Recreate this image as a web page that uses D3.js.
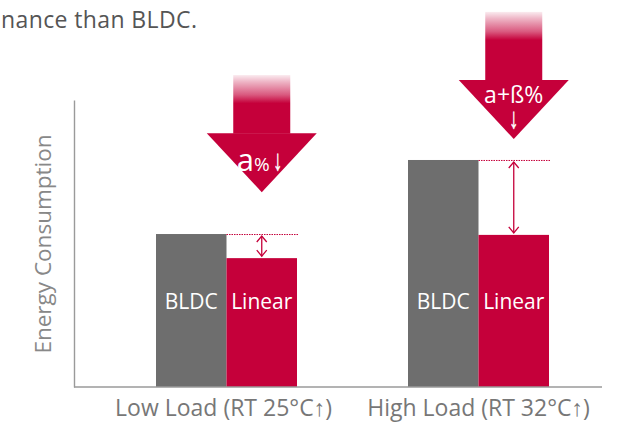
<!DOCTYPE html>
<html><head><meta charset="utf-8">
<script src="https://cdn.jsdelivr.net/npm/d3@7"></script>
<style>html,body{margin:0;padding:0;background:#fff;}svg{display:block;font-family:"Open Sans",sans-serif;}</style>
</head><body>
<script>
// ---- data ----
const categories = ["Low Load (RT 25°C↑)", "High Load (RT 32°C↑)"];
const seriesNames = ["BLDC", "Linear"];
const bldcValues = [53.3, 79.1];
const linearValues = [44.9, 53.0];
const arrowLabels = [["a", "%", "↓"], ["a+ß%", "↓"]];
const arrowTop = [108.7, 130.7];   // shaft top (value units)
const arrowTip = [67.9, 86.4];     // arrow tip (value units)
const yAxisTitle = "Energy Consumption";
const headline = "nance than BLDC.";

const W = 630, H = 426;
const red = "#c5003a", gray = "#6e6e6e";
const svg = d3.select("body").append("svg").attr("width", W).attr("height", H);

const y = d3.scaleLinear().domain([0, 100]).range([387, 100]);
const x = d3.scaleBand().domain(categories).range([100.5, 604.5]).padding(0);
const xs = d3.scaleBand().domain(seriesNames).range([55.5, 196.5]).padding(0);

// headline
svg.append("text").attr("x", 1).attr("y", 28)
  .attr("font-size", 23).attr("fill", "#555")
  .attr("textLength", 196).attr("lengthAdjust", "spacing").text(headline);

// bars
const rows = categories.map((c, i) => ({cat: c, vals: [bldcValues[i], linearValues[i]], i}));
const g = svg.selectAll("g.cat").data(rows).join("g").attr("class", "cat")
  .attr("transform", d => `translate(${x(d.cat)},0)`);
g.selectAll("rect").data(d => d.vals.map((v, k) => ({s: seriesNames[k], v})))
  .join("rect")
  .attr("x", d => xs(d.s)).attr("width", xs.bandwidth())
  .attr("y", d => y(d.v)).attr("height", d => y(0) - y(d.v))
  .attr("fill", d => d.s === "BLDC" ? gray : red);
g.selectAll("text.bl").data(seriesNames).join("text").attr("class", "bl")
  .attr("x", s => xs(s) + xs.bandwidth() / 2).attr("y", 309)
  .attr("text-anchor", "middle").attr("fill", "#fff").attr("font-size", 21)
  .attr("font-weight", 500).text(s => s);

// dotted reference lines + double arrows
g.append("line")
  .attr("x1", xs("Linear")).attr("x2", xs("Linear") + xs.bandwidth() + 1)
  .attr("y1", d => y(d.vals[0]) + 0.5).attr("y2", d => y(d.vals[0]) + 0.5)
  .attr("stroke", red).attr("stroke-width", 1).attr("stroke-dasharray", "1.5,1");
const cx = xs("Linear") + xs.bandwidth() / 2;
g.append("line").attr("x1", cx).attr("x2", cx)
  .attr("y1", d => y(d.vals[0]) + 2).attr("y2", d => y(d.vals[1]) - 2)
  .attr("stroke", red).attr("stroke-width", 1.3);
g.append("path").attr("fill", "none").attr("stroke", red).attr("stroke-width", 1.3)
  .attr("d", d => {
    const t = y(d.vals[0]) + 2, b = y(d.vals[1]) - 2;
    return `M${cx - 5},${t + 6}L${cx},${t}L${cx + 5},${t + 6}M${cx - 5},${b - 6}L${cx},${b}L${cx + 5},${b - 6}`;
  });

// big arrows
const defs = svg.append("defs");
function downGlyph(px, py, txt) {
  svg.append("text").attr("transform", `translate(${px},${py}) scale(1.05,1.7)`)
    .attr("text-anchor", "middle").attr("fill", "#fff").attr("stroke", "#fff").attr("stroke-width", 0.35)
    .attr("font-size", 17).attr("font-family", "Liberation Sans").text(txt);
}
rows.forEach((d, i) => {
  const ax = x(d.cat) + cx;
  const top = y(arrowTop[i]), tip = y(arrowTip[i]);
  const headH = 59, headW = 110, shaftW = 57;
  const headTop = tip - headH;
  const shaftLen = headTop - top;
  const gid = "grad" + i;
  const gr = defs.append("linearGradient").attr("id", gid).attr("x1", 0).attr("y1", 0).attr("x2", 0).attr("y2", 1);
  gr.append("stop").attr("offset", 0).attr("stop-color", red).attr("stop-opacity", 0.08);
  gr.append("stop").attr("offset", 0.25 * 28 / shaftLen).attr("stop-color", red).attr("stop-opacity", 0.3);
  gr.append("stop").attr("offset", 0.7 * 28 / shaftLen).attr("stop-color", red).attr("stop-opacity", 0.65);
  gr.append("stop").attr("offset", 28 / shaftLen).attr("stop-color", red).attr("stop-opacity", 1);
  gr.append("stop").attr("offset", 1).attr("stop-color", red).attr("stop-opacity", 1);
  svg.append("rect").attr("x", ax - shaftW / 2).attr("y", top).attr("width", shaftW)
    .attr("height", shaftLen + 0.5).attr("fill", `url(#${gid})`);
  svg.append("path").attr("fill", red)
    .attr("d", `M${ax - headW / 2},${headTop}L${ax + headW / 2},${headTop}L${ax},${tip}Z`);
  const lbl = arrowLabels[i];
  if (i === 0) {
    const t = svg.append("text").attr("x", ax - 25).attr("y", headTop + 38)
      .attr("fill", "#fff");
    t.append("tspan").attr("font-size", 31).text(lbl[0]);
    t.append("tspan").attr("font-size", 19).text(lbl[1]);
    downGlyph(ax + 16, headTop + 37, lbl[2]);
  } else {
    svg.append("text").attr("x", ax).attr("y", headTop + 23).attr("text-anchor", "middle")
      .attr("fill", "#fff").attr("font-size", 23).text(lbl[0]);
    downGlyph(ax, headTop + 48, lbl[1]);
  }
});

// axes
svg.append("g").attr("transform", "translate(74,0)")
  .call(d3.axisLeft(y).tickValues([]).tickSizeOuter(0))
  .call(a => a.select(".domain").attr("stroke", "#9a9a9a").attr("stroke-width", 1.4));
const xa = svg.append("g").attr("transform", "translate(0,387)")
  .call(d3.axisBottom(x).tickSize(0).tickPadding(13));
xa.select(".domain").attr("d", "M74,0H602").attr("stroke", "#9a9a9a").attr("stroke-width", 1.4);
xa.selectAll("text").attr("font-size", 23).attr("fill", "#777").attr("font-family", "Open Sans, sans-serif")
  .attr("dx", (d, i) => i === 0 ? -3 : 0);

svg.append("text").attr("transform", "translate(51,244) rotate(-90)").attr("text-anchor", "middle")
  .attr("font-size", 22.5).attr("fill", "#888").text(yAxisTitle);
</script>
</body></html>
